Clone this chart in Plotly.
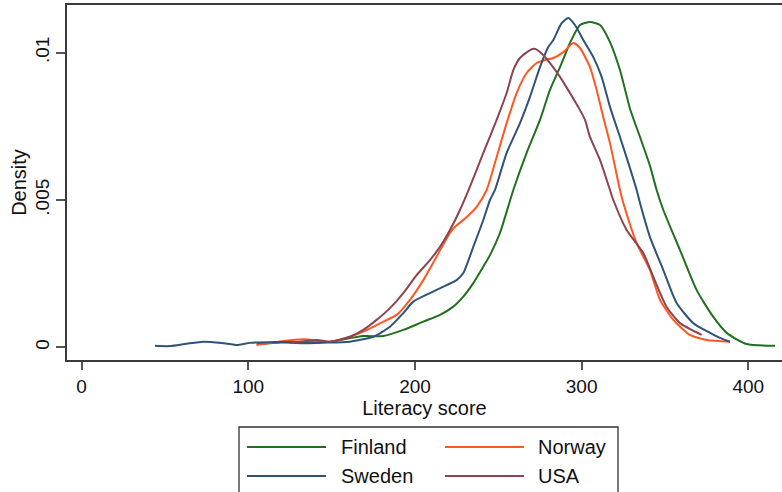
import plotly.graph_objects as go

# Kernel density estimates of literacy scores, by country
finland_score = [105, 120, 137, 149, 169, 181, 193, 205, 215, 223, 229, 235, 241, 245, 251,
                 259, 267, 275, 281, 287, 293, 299, 305, 311, 317, 323, 329, 335, 341, 345,
                 349, 359, 369, 379, 387, 399, 416]
finland_density = [0.00010, 0.00016, 0.00014, 0.00019, 0.00038, 0.00038, 0.00059, 0.00087,
                   0.00110, 0.00138, 0.00172, 0.00218, 0.00274, 0.00313, 0.00388, 0.00534,
                   0.00660, 0.00772, 0.00874, 0.00951, 0.01033, 0.01094, 0.01104, 0.01094,
                   0.01036, 0.00941, 0.00810, 0.00714, 0.00616, 0.00534, 0.00466, 0.00330,
                   0.00194, 0.00103, 0.00049, 0.00011, 0.00005]

norway_score = [105, 119, 133, 149, 161, 169, 181, 189, 197, 205, 213, 221, 224, 229, 237,
                243, 249, 255, 261, 267, 273, 278, 283, 289, 295, 299, 305, 309, 313, 317,
                323, 325, 333, 341, 347, 355, 365, 375, 389]
norway_density = [0.00008, 0.00020, 0.00027, 0.00019, 0.00036, 0.00053, 0.00087, 0.00110,
                  0.00161, 0.00228, 0.00308, 0.00388, 0.00409, 0.00432, 0.00477, 0.00534,
                  0.00646, 0.00761, 0.00863, 0.00931, 0.00965, 0.00975, 0.00982, 0.01002,
                  0.01033, 0.01016, 0.00951, 0.00873, 0.00781, 0.00693, 0.00534, 0.00490,
                  0.00354, 0.00262, 0.00161, 0.00093, 0.00042, 0.00025, 0.00019]

sweden_score = [44, 53, 63, 73, 84, 94, 101, 116, 131, 149, 161, 175, 185, 193, 199, 209,
                219, 225, 229, 235, 241, 245, 248, 255, 263, 269, 275, 280, 283, 288, 292,
                296, 301, 307, 312, 317, 323, 328, 333, 335, 341, 349, 357, 367, 377, 383, 389]
sweden_density = [0.00005, 0.00004, 0.00012, 0.00019, 0.00015, 0.00008, 0.00015, 0.00018,
                  0.00018, 0.00016, 0.00019, 0.00036, 0.00070, 0.00116, 0.00155, 0.00184,
                  0.00211, 0.00228, 0.00252, 0.00341, 0.00432, 0.00500, 0.00534, 0.00660,
                  0.00761, 0.00850, 0.00951, 0.01019, 0.01043, 0.01100, 0.01118, 0.01094,
                  0.01043, 0.00985, 0.00918, 0.00816, 0.00714, 0.00626, 0.00534, 0.00490,
                  0.00374, 0.00262, 0.00150, 0.00082, 0.00049, 0.00032, 0.00019]

usa_score = [125, 141, 149, 161, 169, 177, 185, 193, 201, 209, 215, 221, 227, 233, 241, 249,
             255, 259, 263, 269, 272, 275, 281, 287, 293, 299, 302, 305, 311, 317, 319, 327,
             337, 343, 351, 359, 372]
usa_density = [0.00015, 0.00025, 0.00019, 0.00036, 0.00059, 0.00093, 0.00133, 0.00184,
               0.00245, 0.00296, 0.00341, 0.00398, 0.00466, 0.00545, 0.00660, 0.00772,
               0.00863, 0.00941, 0.00982, 0.01009, 0.01013, 0.01002, 0.00965, 0.00918,
               0.00863, 0.00805, 0.00772, 0.00714, 0.00636, 0.00534, 0.00500, 0.00398,
               0.00320, 0.00239, 0.00137, 0.00082, 0.00042]

countries = ["Finland", "Norway", "Sweden", "USA"]
colors = ["#22701f", "#ff5722", "#2f5378", "#8c4450"]
x_ticks = [0, 100, 200, 300, 400]
y_ticks = [0, 0.005, 0.01]
y_tick_text = ["0", ".005", ".01"]

series = [
    (finland_score, finland_density),
    (norway_score, norway_density),
    (sweden_score, sweden_density),
    (usa_score, usa_density),
]

FONT = "Liberation Sans, Arial, sans-serif"
W, H = 782, 492
ML, MR, MT, MB = 67, 0, 5, 132

fig = go.Figure()
for name, (xs, ys), col in zip(countries, series, colors):
    fig.add_trace(go.Scatter(
        x=xs, y=ys, mode="lines", name=name, showlegend=False,
        line=dict(color=col, width=2, shape="spline", smoothing=0.6),
        hoverinfo="x+y+name",
    ))

# Boxed two-column key below the axis
pw, ph = W - ML - MR, H - MT - MB


def px_x(p):
    return (p - ML) / pw


def px_y(p):
    return (H - MB - p) / ph


shapes = [dict(type="rect", xref="paper", yref="paper",
               x0=px_x(239), x1=px_x(618), y0=px_y(505), y1=px_y(427),
               line=dict(color="#333333", width=1.3), fillcolor="rgba(0,0,0,0)")]
annotations = []
cols_x = [(247, 326, 339), (445, 524, 536)]
rows_y = [447, 476]
for i, (name, col) in enumerate(zip(countries, colors)):
    x0, x1, tx = cols_x[i % 2]
    yy = rows_y[i // 2]
    shapes.append(dict(type="line", xref="paper", yref="paper",
                       x0=px_x(x0), x1=px_x(x1), y0=px_y(yy), y1=px_y(yy),
                       line=dict(color=col, width=2)))
    annotations.append(dict(xref="paper", yref="paper", x=px_x(tx), y=px_y(yy),
                            text=name, showarrow=False, xanchor="left", yanchor="middle",
                            font=dict(family=FONT, size=20, color="#111111")))

fig.update_layout(
    width=W, height=H,
    margin=dict(l=ML, r=MR, t=MT, b=MB, autoexpand=False),
    paper_bgcolor="white", plot_bgcolor="white",
    font=dict(family=FONT, color="#111111"),
    shapes=shapes, annotations=annotations,
    xaxis=dict(
        range=[-8.76, 420.2], tickvals=x_ticks,
        showline=True, linecolor="#3a3a3a", linewidth=1.6, mirror=True,
        ticks="outside", ticklen=8, tickwidth=1.6, tickcolor="#555555",
        showgrid=False, zeroline=False,
        tickfont=dict(size=19, family=FONT, color="#111111"),
        title=dict(text="Literacy score", font=dict(size=20, family=FONT, color="#111111"),
                   standoff=2),
        automargin=False,
    ),
    yaxis=dict(
        range=[-0.000431, 0.011619], tickvals=y_ticks, ticktext=y_tick_text,
        tickangle=-90,
        showline=True, linecolor="#3a3a3a", linewidth=1.6,
        ticks="outside", ticklen=9, tickwidth=1.6, tickcolor="#555555",
        showgrid=False, zeroline=False,
        tickfont=dict(size=19, family=FONT, color="#111111"),
        title=dict(text="Density", font=dict(size=20, family=FONT, color="#111111"),
                   standoff=0),
        automargin=False,
    ),
)

fig.write_html("out.html")
